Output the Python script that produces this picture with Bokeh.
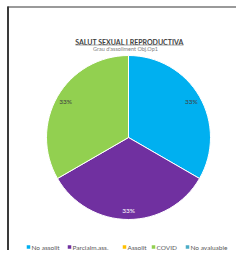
import numpy as np
from bokeh.plotting import figure
from bokeh.models import Range1d, ColumnDataSource
from bokeh.core.properties import value
from bokeh.embed import file_html
from bokeh.resources import INLINE

# ---- data ----
title_text = "SALUT SEXUAL I REPRODUCTIVA"
subtitle_text = "Grau d'assoliment Obj.Op1"
categories = ["No assolit", "Parcialm.ass.", "Assolit", "COVID", "No avaluable"]
values = [1, 1, 0, 1, 0]
colors = ["#00B0F0", "#7030A0", "#FFC000", "#92D050", "#4BACC6"]
label_colors = ["#404040", "#FFFFFF", "#404040", "#404040", "#404040"]

W, H = 236, 250
def py(y):  # picture y -> data y
    return H - y

p = figure(width=W, height=H, output_backend="svg", toolbar_location=None,
           x_range=Range1d(0, W), y_range=Range1d(0, H),
           min_border=0)
p.axis.visible = False
p.grid.visible = False
p.outline_line_color = None
p.background_fill_color = "white"
p.border_fill_color = "white"

# frame lines
p.line([7, W], [py(6.5), py(6.5)], line_color="#9A9A9A", line_width=2)
p.line([7.5, 7.5], [py(6), py(H)], line_color="#3A3A3A", line_width=2)

# ---- pie ----
cx, cy, r = 128, py(137), 82
vals = np.array(values, dtype=float)
total = vals.sum()
frac = vals / total
cum = np.concatenate([[0], np.cumsum(frac)])
start_deg = 90 - 360 * cum[1:]
end_deg = 90 - 360 * cum[:-1]
mask = vals > 0
src = ColumnDataSource(dict(
    start=np.radians(start_deg[mask]), end=np.radians(end_deg[mask]),
    color=[c for c, m in zip(colors, mask) if m]))
p.wedge(x=cx, y=cy, radius=r, start_angle="start", end_angle="end",
        fill_color="color", line_color="white", line_width=1, source=src)

mid = np.radians((start_deg + end_deg) / 2)[mask]
lr = 0.885 * r
lab = ColumnDataSource(dict(
    x=cx + lr * np.cos(mid), y=cy + lr * np.sin(mid),
    t=["%d%%" % round(f * 100) for f in frac[mask]],
    c=[c for c, m in zip(label_colors, mask) if m]))
p.text(x="x", y="y", text="t", text_color="c", source=lab,
       text_font=value("Lato"), text_font_size="6.5px",
       text_align="center", text_baseline="middle")

# ---- titles ----
p.text(x=[129], y=[py(41)], text=[title_text], text_font=value("Lato"),
       text_font_style="bold", text_font_size="7px", text_color="#404040",
       text_align="center", text_baseline="middle")
p.line([75, 183], [py(44.5), py(44.5)], line_color="#8A8A8A", line_width=0.8)
p.text(x=[125], y=[py(48.5)], text=[subtitle_text], text_font=value("Lato"),
       text_font_size="5.5px", text_color="#7F7F7F",
       text_align="center", text_baseline="middle")

# ---- legend ----
leg_x = [28, 69, 124, 153, 187]
leg_y = py(246.5)
p.scatter(x=leg_x, y=[leg_y] * 5, marker="square", size=3.5,
          fill_color=colors, line_color=None)
p.text(x=[x + 3 for x in leg_x], y=[leg_y] * 5, text=categories,
       text_font=value("Lato"), text_font_size="6.5px", text_color="#595959",
       text_align="left", text_baseline="middle")

open("out.html", "w").write(file_html(p, INLINE))
